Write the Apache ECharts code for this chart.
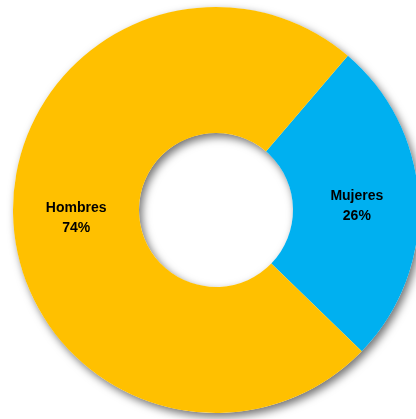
<!DOCTYPE html>
<html>
<head>
<meta charset="utf-8">
<script src="https://cdn.jsdelivr.net/npm/echarts@6/dist/echarts.min.js"></script>
<style>
html,body{margin:0;padding:0;background:#fff;}
#c{width:416px;height:419px;}
</style>
</head>
<body>
<div id="c"></div>
<script>
const categories = ['Mujeres', 'Hombres'];
const values = [26, 74];
const colors = ['#00B0F0', '#FFC000'];
const labelOffsets = [[-2, 3], [3, 1]];

const chart = echarts.init(document.getElementById('c'), null, {renderer: 'canvas'});
chart.setOption({
  backgroundColor: '#ffffff',
  animation: false,
  series: [
    {
      type: 'pie',
      silent: true,
      center: [216, 210],
      radius: [77, 203],
      label: {show: false},
      labelLine: {show: false},
      itemStyle: {
        color: '#ffffff',
        shadowColor: 'rgba(0,0,0,0.55)',
        shadowBlur: 9,
        shadowOffsetX: 3,
        shadowOffsetY: 4
      },
      data: [{value: 1}],
      z: 1
    },
    {
      type: 'pie',
      center: [216, 210],
      radius: [77, 203],
      startAngle: 49.5,
      clockwise: true,
      z: 2,
      label: {
        show: true,
        position: 'inside',
        formatter: p => p.name + '\n' + Math.round(p.percent) + '%',
        fontFamily: 'Liberation Sans, Arial, sans-serif',
        fontWeight: 'bold',
        fontSize: 14,
        lineHeight: 20,
        color: '#000000',
        align: 'center'
      },
      labelLine: {show: false},
      itemStyle: {borderWidth: 0},
      data: categories.map((n, i) => ({
        name: n,
        value: values[i],
        itemStyle: {color: colors[i]},
        label: {offset: labelOffsets[i]}
      }))
    }
  ]
});
</script>
</body>
</html>
